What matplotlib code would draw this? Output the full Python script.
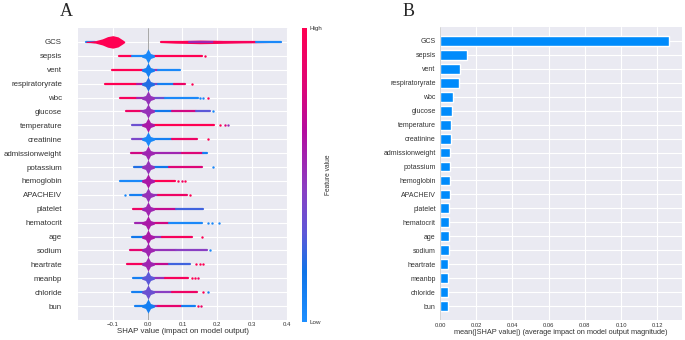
import numpy as np
import matplotlib
matplotlib.use("Agg")
import matplotlib.pyplot as plt
import seaborn as sns
from matplotlib.colors import LinearSegmentedColormap
from matplotlib.path import Path

sns.set_style("darkgrid")
plt.rcParams['font.family'] = ['Liberation Sans', 'DejaVu Sans']

features = ["GCS", "sepsis", "vent", "respiratoryrate", "wbc", "glucose",
            "temperature", "creatinine", "admissionweight", "potassium",
            "hemoglobin", "APACHEIV", "platelet", "hematocrit", "age",
            "sodium", "heartrate", "meanbp", "chloride", "bun"]

# panel B: mean |SHAP|
mean_abs_shap = [0.1265, 0.0147, 0.0109, 0.0103, 0.0070, 0.0064, 0.0063,
                 0.0061, 0.0056, 0.0055, 0.0054, 0.0053, 0.0052, 0.0051,
                 0.0048, 0.0047, 0.0046, 0.0045, 0.0044, 0.0042]

# panel A: streaks of points per feature (x0, x1, feature value 0=low 1=high)
streaks = [
    [(-0.177, -0.15, 0.05), (0.037, 0.12, 1.0), (0.12, 0.19, 0.55), (0.19, 0.31, 0.95), (0.31, 0.383, 0.05)],
    [(-0.083, -0.046, 1.0), (-0.046, 0.0, 0.05), (0.0, 0.155, 1.0)],
    [(-0.102, -0.015, 1.0), (-0.015, 0.0, 0.8), (0.0, 0.03, 0.5), (0.03, 0.092, 0.05)],
    [(-0.122, -0.03, 1.0), (-0.03, 0.0, 0.6), (0.0, 0.03, 0.4), (0.03, 0.075, 0.1), (0.075, 0.107, 0.9)],
    [(-0.079, -0.03, 0.95), (-0.03, 0.0, 0.55), (0.0, 0.05, 0.35), (0.05, 0.144, 0.05)],
    [(-0.061, -0.02, 0.9), (-0.02, 0.0, 0.55), (0.0, 0.07, 0.15), (0.07, 0.14, 0.75), (0.14, 0.179, 0.3)],
    [(-0.046, 0.0, 0.35), (0.0, 0.19, 1.0)],
    [(-0.046, 0.0, 0.4), (0.0, 0.07, 0.1), (0.07, 0.141, 0.9)],
    [(-0.049, 0.0, 0.75), (0.0, 0.1, 0.55), (0.1, 0.16, 0.8), (0.16, 0.17, 0.1)],
    [(-0.04, 0.0, 0.2), (0.0, 0.06, 0.15), (0.06, 0.156, 0.8)],
    [(-0.078, 0.0, 0.05), (0.0, 0.078, 1.0)],
    [(-0.052, 0.0, 0.1), (0.0, 0.03, 0.5), (0.03, 0.112, 0.9)],
    [(-0.043, 0.0, 0.9), (0.0, 0.08, 0.7), (0.08, 0.158, 0.25)],
    [(-0.037, 0.0, 0.55), (0.0, 0.06, 0.75), (0.06, 0.156, 0.05)],
    [(-0.046, 0.0, 0.15), (0.0, 0.04, 0.5), (0.04, 0.126, 0.95)],
    [(-0.052, 0.0, 0.85), (0.0, 0.08, 0.5), (0.08, 0.17, 0.45)],
    [(-0.058, 0.0, 0.95), (0.0, 0.06, 0.7), (0.06, 0.121, 0.25)],
    [(-0.043, 0.0, 0.1), (0.0, 0.05, 0.5), (0.05, 0.115, 0.95)],
    [(-0.046, 0.0, 0.1), (0.0, 0.07, 0.45), (0.07, 0.141, 0.9)],
    [(-0.037, 0.0, 0.1), (0.0, 0.03, 0.5), (0.03, 0.1, 0.85), (0.1, 0.135, 0.1)],
]

# isolated points per feature (x, feature value)
outliers = [
    [],
    [(0.166, 1.0)],
    [],
    [(0.127, 1.0)],
    [(0.150, 0.05), (0.158, 0.05), (0.173, 1.0)],
    [(0.187, 0.05)],
    [(0.207, 1.0), (0.222, 0.8), (0.230, 0.5)],
    [(0.173, 1.0)],
    [],
    [(0.187, 0.05)],
    [(0.086, 1.0), (0.100, 0.9), (0.107, 1.0)],
    [(-0.066, 0.05), (0.121, 1.0)],
    [],
    [(0.173, 0.05), (0.184, 0.05), (0.205, 0.05)],
    [(0.156, 1.0)],
    [(0.179, 0.05)],
    [(0.140, 1.0), (0.150, 1.0), (0.158, 1.0)],
    [(0.128, 1.0), (0.135, 1.0), (0.145, 0.9)],
    [(0.158, 1.0), (0.172, 0.1)],
    [(0.145, 1.0), (0.152, 0.9)],
]

# colour of the dense pile-up at zero
bulge_value = [None, 0.05, 0.1, 0.2, 0.5, 0.5, 0.6, 0.05, 0.55, 0.5,
               0.6, 0.5, 0.55, 0.6, 0.6, 0.55, 0.55, 0.3, 0.35, 0.1]

# GCS: violin on the left, spindle on the right (x, half-height in rows)
gcs_violin_x = [-0.177, -0.165, -0.15, -0.13, -0.115, -0.10, -0.085, -0.072, -0.066]
gcs_violin_h = [0.04, 0.05, 0.09, 0.22, 0.38, 0.45, 0.36, 0.15, 0.04]
gcs_spindle_x = [0.037, 0.08, 0.15, 0.20, 0.27, 0.33, 0.383]
gcs_spindle_h = [0.04, 0.09, 0.13, 0.11, 0.07, 0.05, 0.03]

shap_cmap = LinearSegmentedColormap.from_list("shap", [
    (0.0, "#1e8fff"), (0.17, "#0f74e8"), (0.3, "#5d58d8"), (0.45, "#8a3fc3"),
    (0.65, "#b40c9e"), (0.8, "#dd0677"), (1.0, "#ff0052")])

W, H = 685, 340
fig = plt.figure(figsize=(W / 100, H / 100), dpi=100)

# ---------------- panel A ----------------
axA = fig.add_axes([78 / W, 20 / H, 210 / W, 292 / H])
n = len(features)
ypos = [n - 1 - i for i in range(n)]

axA.axvline(0, color="#999999", lw=0.6, zorder=1)

star = Path([(0, 1), (0.35, 0.35), (0.9, 0.15), (0.9, -0.15), (0.35, -0.35), (0, -1),
             (-0.35, -0.35), (-0.9, -0.15), (-0.9, 0.15), (-0.35, 0.35), (0, 1)])

for i, y in enumerate(ypos):
    for x0, x1, c in streaks[i]:
        axA.plot([x0, x1], [y, y], color=shap_cmap(c), lw=1.6,
                 solid_capstyle="round", zorder=3)
    for x, c in outliers[i]:
        axA.scatter([x], [y], s=3, color=shap_cmap(c), lw=0, zorder=3)
    if bulge_value[i] is not None:
        axA.scatter([0.002], [y], s=105, marker=star, color=shap_cmap(bulge_value[i]),
                    lw=0, zorder=4)

yg = ypos[0]
axA.fill_between(gcs_violin_x, [yg - h for h in gcs_violin_h],
                 [yg + h for h in gcs_violin_h], color="#ff0052", lw=0, zorder=3)
axA.fill_between(gcs_spindle_x, [yg - h for h in gcs_spindle_h],
                 [yg + h for h in gcs_spindle_h], color="#ff0052", lw=0, zorder=2)

axA.set_xlim(-0.2, 0.403)
axA.set_ylim(-1, n)
axA.set_xticks([-0.1, 0.0, 0.1, 0.2, 0.3, 0.4])
axA.set_xticklabels(["\u22120.1", "0.0", "0.1", "0.2", "0.3", "0.4"])
axA.set_yticks(ypos)
axA.set_yticklabels(features)
axA.tick_params(axis="y", length=0, pad=11.5, labelsize=5.7, labelcolor="#333333")
axA.tick_params(axis="x", length=0, pad=1.5, labelsize=4.3, labelcolor="#333333")
axA.set_xlabel("SHAP value (impact on model output)", fontsize=5.7,
               color="#333333", labelpad=1)
for s in axA.spines.values():
    s.set_visible(False)

# colour bar
cax = fig.add_axes([302 / W, 18 / H, 5 / W, 294 / H])
sm = plt.cm.ScalarMappable(cmap=shap_cmap, norm=plt.Normalize(0, 1))
cb = fig.colorbar(sm, cax=cax, ticks=[0, 1])
cb.set_ticklabels(["Low", "High"])
cb.outline.set_visible(False)
cax.tick_params(length=0, labelsize=4.5, pad=2, labelcolor="#333333")
cb.set_label("Feature value", fontsize=4.8, labelpad=2, color="#333333")

# ---------------- panel B ----------------
axB = fig.add_axes([440 / W, 20 / H, 242 / W, 293 / H])
axB.barh(ypos, mean_abs_shap, height=0.7, color="#008bfb", zorder=3)
axB.set_xlim(0, 0.1337)
axB.set_ylim(-1, n)
axB.set_xticks([0.0, 0.02, 0.04, 0.06, 0.08, 0.10, 0.12])
axB.set_xticklabels(["0.00", "0.02", "0.04", "0.06", "0.08", "0.10", "0.12"])
axB.set_yticks(ypos)
axB.set_yticklabels(features)
axB.tick_params(axis="y", length=0, pad=3, labelsize=5.0, labelcolor="#333333")
axB.tick_params(axis="x", length=0, pad=2, labelsize=4.2, labelcolor="#333333")
axB.set_xlabel("mean(|SHAP value|) (average impact on model output magnitude)",
               fontsize=5.3, color="#333333", labelpad=1)
for s in axB.spines.values():
    s.set_visible(False)
axB.axvline(0, color="#cccccc", lw=0.6, zorder=4)

fig.text(60 / W, 1 - 15.5 / H, "A", family="Liberation Serif", fontsize=13, va="baseline")
fig.text(403 / W, 1 - 15.5 / H, "B", family="Liberation Serif", fontsize=13, va="baseline")

fig.savefig("out.png", dpi=100, facecolor="white")
